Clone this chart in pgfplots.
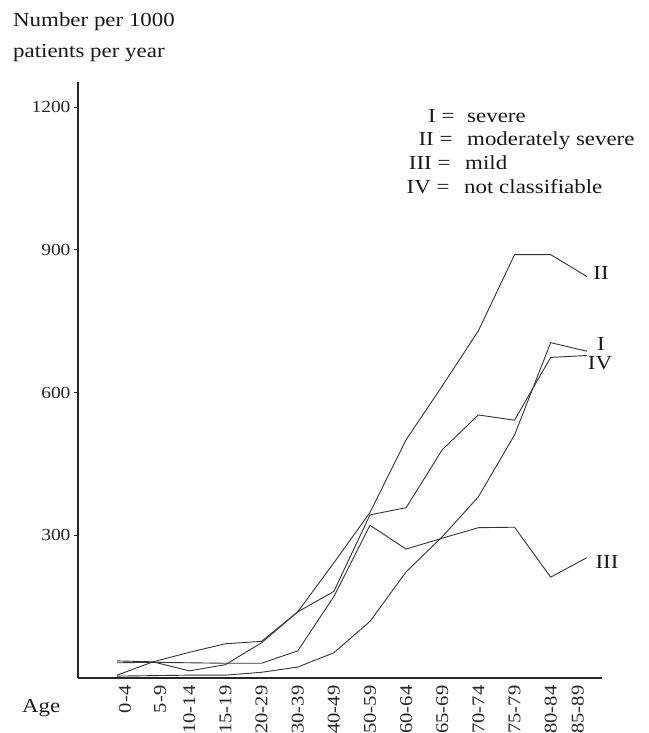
\documentclass[border=0pt]{standalone}
\usepackage{fontspec}
\setmainfont{Liberation Serif}[FakeStretch=1.15]
\usepackage{pgfplots}
\pgfplotsset{compat=1.18}
\usepackage{pgfplotstable}

\pgfplotstableread{
x I II III IV
0 4 6 32 36
1 5 34 33 34
2 6 54 32 15
3 6 72 31 28
4 12 77 31 74
5 23 139 57 139
6 53 242 171 182
7 119 348 321 343
8 223 501 271 358
9 297 614 294 480
10 381 730 316 553
11 511 890 317 542
12 705 890 212 674
13 687 844 253 678
}\datatable

\begin{document}
\begin{tikzpicture}[x=1bp,y=1bp]
\begin{axis}[
 at={(78bp,55bp)}, anchor=south west, scale only axis,
 width=524bp, height=596bp,
 xmin=-1.079, xmax=13.42, ymin=0, ymax=1253,
 axis lines=left, axis line style={black!85, line width=1.1bp, -},
 xtick={0.22,1.19,2,3,4,5,6,7,8,9,10,11,12,12.75},
 xticklabels={0-4,5-9,10-14,15-19,20-29,30-39,40-49,50-59,60-64,65-69,70-74,75-79,80-84,85-89},
 x tick style={draw=none},
 xticklabel style={rotate=90, anchor=east, font=\fontsize{18}{18}\selectfont, text=black!85},
 ytick={300,600,900,1200},
 y tick style={black!85, line width=0.8bp},
 major tick length=4bp, tick align=outside,
 yticklabel style={font=\fontsize{17}{17}\selectfont, text=black!85},
 /pgf/number format/assume math mode=true,
 /pgf/number format/set thousands separator={},
 clip=false,
]
\addplot[black!80, line width=0.9bp, mark=none] table[x=x,y=I]{\datatable};
\addplot[black!80, line width=0.9bp, mark=none] table[x=x,y=II]{\datatable};
\addplot[black!80, line width=0.9bp, mark=none] table[x=x,y=III]{\datatable};
\addplot[black!80, line width=0.9bp, mark=none] table[x=x,y=IV]{\datatable};
\end{axis}
\begin{scope}[every node/.style={font=\fontsize{20}{20}\selectfont, text=black!90, inner sep=0pt}]
\node[anchor=base west] at (13,706) {Number per 1000};
\node[anchor=base west] at (13,675) {patients per year};
\node[anchor=base west] at (22,20) {Age};
% key
\node[anchor=base east] at (436,610) {I};
\node[anchor=base] at (448,610) {=};
\node[anchor=base west] at (467,610) {severe};
\node[anchor=base east] at (434,587) {II};
\node[anchor=base] at (446,587) {=};
\node[anchor=base west] at (467,587) {moderately severe};
\node[anchor=base east] at (432,563) {III};
\node[anchor=base] at (444,563) {=};
\node[anchor=base west] at (465,563) {mild};
\node[anchor=base east] at (431,539) {IV};
\node[anchor=base] at (443,539) {=};
\node[anchor=base west] at (464,539) {not classifiable};
% series labels
\node at (601,460) {II};
\node at (601,389) {I};
\node at (600,370) {IV};
\node at (607,171) {III};
\end{scope}
\pgfresetboundingbox
\useasboundingbox (0,0) rectangle (649,733);
\end{tikzpicture}
\end{document}
